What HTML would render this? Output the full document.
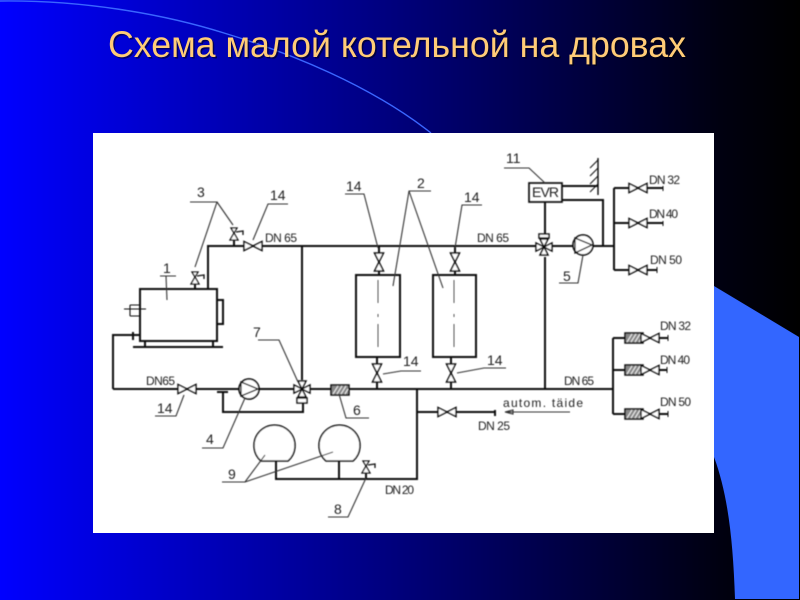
<!DOCTYPE html>
<html><head><meta charset="utf-8"><style>
html,body{margin:0;padding:0;width:800px;height:600px;overflow:hidden;background:#000}
svg{display:block}
.t{font-family:"Liberation Sans",sans-serif;font-size:12px;fill:#222}
.n{font-family:"Liberation Sans",sans-serif;font-size:14px;fill:#222}
</style></head><body>
<svg width="800" height="600" viewBox="0 0 800 600" xmlns="http://www.w3.org/2000/svg">
<defs>
<linearGradient id="bg" x1="0" x2="1" y1="0" y2="0"><stop offset="0" stop-color="#0000ff"/><stop offset=".9" stop-color="#000010"/><stop offset="1" stop-color="#000"/></linearGradient>
<filter id="b" x="-0.05" y="-0.05" width="1.1" height="1.1"><feGaussianBlur stdDeviation="0.4"/></filter>
<g id="vh" fill="#fff" stroke="#111" stroke-width="1.5"><path d="M-9,-4.5 L9,4.5 L9,-4.5 L-9,4.5Z"/></g>
<g id="vv" fill="#fff" stroke="#111" stroke-width="1.5"><path d="M-4.5,-9 L4.5,9 L-4.5,9 L4.5,-9Z"/></g>
<g id="hatch"><rect x="-9" y="-5" width="18" height="10" fill="#888" stroke="#111" stroke-width="1.5"/><path d="M-7,4 L-2,-4 M-3,4 L2,-4 M1,4 L6,-4 M5,4 L8,-1" stroke="#eee" stroke-width="1.1"/></g>
<g id="pump"><circle r="10" fill="#fff" stroke="#111" stroke-width="1.7"/></g>
<g id="safe" fill="#fff" stroke="#111" stroke-width="1.3"><path d="M-4,5 L4,5 L0,-2Z M-3,-7 L3,-7 L0,-2Z"/><path d="M2,-3 L9,-4 L9,0" fill="none"/></g>
</defs>
<rect width="800" height="600" fill="url(#bg)"/>
<path d="M0,1 C80,0 160,13 224,33 C290,53 370,85 431,133" fill="none" stroke="#3a66ff" stroke-width="1.4"/>
<path d="M714,286 L799,337 L799,599 L735,599 C733,540 728,495 714,457Z" fill="#3366ff"/>
<text x="108" y="57" font-family="'Liberation Sans',sans-serif" font-size="37" fill="#000" opacity=".5" textLength="578" lengthAdjust="spacingAndGlyphs" transform="translate(1.5,1.5)">Схема малой котельной на дровах</text>
<text x="108" y="57" font-family="'Liberation Sans',sans-serif" font-size="37" fill="#ffcc77" textLength="578" lengthAdjust="spacingAndGlyphs">Схема малой котельной на дровах</text>
<rect x="93" y="133" width="621" height="400" fill="#fff"/>
<g filter="url(#b)">
<g fill="none" stroke="#111" stroke-width="2">
<!-- boiler -->
<rect x="140" y="289" width="77" height="52"/>
<path d="M133,347 H223 M145,341 V347 M213,341 V347 M217,300 H223 V324 H217"/>
<path d="M130,305 H140 M130,316 H140 M130,305 V316 M124,309 H146" stroke-width="1.1"/>
<path d="M113,389 V335 H140 M133,332 V340"/>
<!-- top pipe -->
<path d="M208,289 V246 H540 M234,246 V236 M195,289 V281 M302,246 V380"/>
<path d="M113,389 H295 M309,389 H613"/>
<path d="M223,392 V412 H303 V400 M217,392 H228"/>
<!-- tanks -->
<rect x="356" y="275" width="44" height="82"/>
<rect x="433" y="275" width="43" height="82"/>
<path d="M379,246 V275 M455,246 V275 M377,357 V389 M451,357 V389"/>
<!-- right top -->
<path d="M552,246 H614 M545,202 V236 M545,257 V389"/>
<rect x="529" y="183" width="33" height="19" stroke-width="1.7"/>
<path d="M562,186 H598 M562,200 H603 V245"/>
<path d="M614,188 V270 M614,188 H663 M614,223 H663 M614,270 H657"/>
<path d="M663,186 V191 M663,221 V226 M657,267 V273" stroke-width="1"/>
<path d="M598,158 V195" stroke-width="1.4"/>
<path d="M598,160 L590,168 M598,168 L590,176 M598,176 L590,184 M598,184 L590,192" stroke-width="1"/>
<!-- right lower -->
<path d="M613,338 V414 M613,338 H668 M613,370 H667 M613,414 H668"/>
<path d="M668,335 V341 M667,367 V373 M668,411 V417" stroke-width="1"/>
<!-- lower branch -->
<path d="M417,390 V479 H276 V461 M339,461 V479 M417,412 H495 M495,410 V416" />
<path d="M366,479 V470"/>
<!-- vessels -->
<path d="M261,461 A20.5,20.5 0 1 1 288,461 Z" fill="#fff" stroke-width="1.5"/>
<path d="M326,461 A20.5,20.5 0 1 1 353,461 Z" fill="#fff" stroke-width="1.5"/>
</g>
<!-- dashed centers -->
<path d="M378,280 V347 M454,280 V347" stroke="#555" stroke-width="1" stroke-dasharray="23 11 3 7 23" fill="none"/>
<!-- valves -->
<use href="#vh" x="253" y="246"/>
<use href="#vh" x="187" y="389"/>
<use href="#vh" x="638" y="188"/>
<use href="#vh" x="638" y="223"/>
<use href="#vh" x="638" y="270"/>
<use href="#vv" x="379" y="262"/>
<use href="#vv" x="455" y="262"/>
<use href="#vv" x="377" y="373"/>
<use href="#vv" x="451" y="373"/>
<use href="#vh" x="447" y="412"/>
<use href="#hatch" x="340" y="390"/>
<use href="#hatch" x="634" y="338"/>
<use href="#hatch" x="634" y="370"/>
<use href="#hatch" x="634" y="414"/>
<use href="#vh" x="650" y="338"/>
<use href="#vh" x="650" y="370"/>
<use href="#vh" x="650" y="414"/>
<!-- three way -->
<g fill="#fff" stroke="#111" stroke-width="1.5">
<path d="M302,389 L294,385 V393Z M302,389 L310,385 V393Z M302,389 L298,381 H306Z M302,389 L298,397 H306Z"/>
<rect x="297" y="398" width="10" height="5"/>
<path d="M544,247 L536,243 V251Z M544,247 L552,243 V251Z M544,247 L540,239 H548Z M544,247 L540,255 H548Z"/>
<rect x="539" y="234" width="10" height="4"/>
</g>
<!-- pumps -->
<use href="#pump" x="249" y="389"/>
<use href="#pump" x="583" y="245"/>
<path d="M240,389 L257,382 V396 Z" fill="none" stroke="#111" stroke-width="1.3" transform="rotate(180 249 389)"/>
<path d="M592,245 L575,238 V253 Z" fill="none" stroke="#111" stroke-width="1.3"/>
<!-- safety -->
<use href="#safe" x="234" y="235"/>
<use href="#safe" x="195" y="279"/>
<use href="#safe" x="366" y="468"/>
<!-- leaders -->
<g fill="none" stroke="#333" stroke-width="1.1">
<path d="M190,202 H217 L195,267 M217,202 L233,225"/>
<path d="M288,204 H268 L253,240"/>
<path d="M160,276 H176 M166,276 L167,300"/>
<path d="M258,340 H279 L298,382"/>
<path d="M345,194 H364 L378,248"/>
<path d="M431,191 H409 L393,286 M409,191 L443,288"/>
<path d="M482,205 H462 L455,248"/>
<path d="M421,371 H401 L383,374"/>
<path d="M506,368 H484 L457,373"/>
<path d="M504,168 H529 L545,183"/>
<path d="M559,283 H578 L583,255"/>
<path d="M155,416 H176 L184,395"/>
<path d="M202,448 H223 L245,398"/>
<path d="M339,394 L346,418 H369"/>
<path d="M222,482 H245 L265,455 M245,482 L333,452"/>
<path d="M328,517 H348 L366,478"/>
<path d="M570,412 H505 M505,412 L513,410 V414Z"/>
</g>
<g>
<text class="n" x="197" y="197">3</text>
<text class="n" x="270" y="200">14</text>
<text class="n" x="163" y="273">1</text>
<text class="t" x="265" y="242" textLength="32">DN 65</text>
<text class="t" x="477" y="242" textLength="32">DN 65</text>
<text class="n" x="346" y="191">14</text>
<text class="n" x="417" y="188">2</text>
<text class="n" x="464" y="202">14</text>
<text class="n" x="403" y="366">14</text>
<text class="n" x="487" y="365">14</text>
<text class="n" x="506" y="163">11</text>
<text class="n" x="532" y="197" textLength="27">EVR</text>
<text class="t" x="649" y="184" textLength="31">DN 32</text>
<text class="t" x="649" y="218" textLength="29">DN 40</text>
<text class="t" x="650" y="264" textLength="32">DN 50</text>
<text class="n" x="563" y="281">5</text>
<text class="n" x="253" y="337">7</text>
<text class="t" x="146" y="385" textLength="29">DN65</text>
<text class="n" x="157" y="413">14</text>
<text class="n" x="206" y="444">4</text>
<text class="n" x="353" y="415">6</text>
<text class="n" x="228" y="479">9</text>
<text class="n" x="334" y="514">8</text>
<text class="t" x="385" y="494" textLength="29">DN 20</text>
<text class="t" x="660" y="330" textLength="31">DN 32</text>
<text class="t" x="660" y="364" textLength="30">DN 40</text>
<text class="t" x="660" y="406" textLength="31">DN 50</text>
<text class="t" x="564" y="385" textLength="30">DN 65</text>
<text class="t" x="503" y="407" textLength="80">autom. täide</text>
<text class="t" x="478" y="430" textLength="32">DN 25</text>
</g>
</g>
</svg>
</body></html>
